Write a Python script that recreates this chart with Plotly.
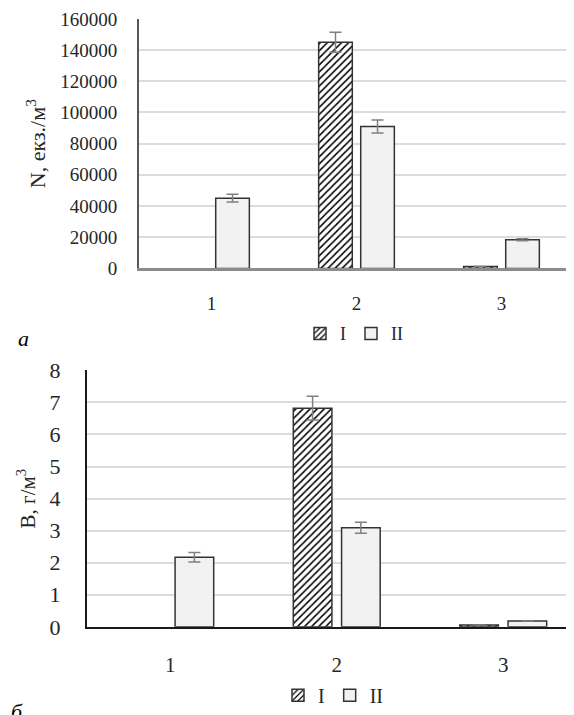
import plotly.graph_objects as go

# ---------------- data ----------------
categories = ["1", "2", "3"]
series_names = ["I", "II"]

# None = no bar drawn for that category
n_I = [None, 145000, 1200]
n_II = [45000, 91000, 18400]
n_I_err = [None, 6400, None]
n_II_err = [2500, 4200, 600]

b_I = [None, 6.82, 0.06]
b_II = [2.17, 3.09, 0.18]
b_I_err = [None, 0.37, None]
b_II_err = [0.15, 0.17, None]

n_ticks = [0, 20000, 40000, 60000, 80000, 100000, 120000, 140000, 160000]
b_ticks = [0, 1, 2, 3, 4, 5, 6, 7, 8]

n_title = "N, екз./м<sup>3</sup>"
b_title = "В, г/м<sup>3</sup>"
panel_labels = ["а", "б"]

# ---------------- figure ----------------
# the page body has an 8px margin, so the figure is sized to fill the
# remaining 566x707 window area and positions are given in window pixels
OFF = 8
W, H = 574 - OFF, 715 - OFF
FONT = "Liberation Serif"
TXT = "#262626"
HATCH = dict(shape="/", size=5, solidity=0.3, fgcolor="#000000", bgcolor="#ffffff", fillmode="replace")
ERR = dict(type="data", color="#808080", thickness=1.5, width=6, visible=True)

fig = go.Figure()

def add_pair(yI, yII, eI, eII, xa, ya, leg):
    fig.add_trace(go.Bar(
        x=categories, y=yI, name=series_names[0], xaxis=xa, yaxis=ya, legend=leg,
        marker=dict(color="#ffffff", pattern=HATCH, line=dict(color="#333333", width=1.5)),
        error_y=dict(array=eI, **ERR),
    ))
    fig.add_trace(go.Bar(
        x=categories, y=yII, name=series_names[1], xaxis=xa, yaxis=ya, legend=leg,
        marker=dict(color="#f2f2f2", line=dict(color="#333333", width=1.5)),
        error_y=dict(array=eII, **ERR),
    ))

add_pair(n_I, n_II, n_I_err, n_II_err, "x", "y", "legend")
add_pair(b_I, b_II, b_I_err, b_II_err, "x2", "y2", "legend2")

def px_x(p):
    return (p - OFF) / W

def px_y(p):
    return 1 - (p - OFF) / H

fig.update_layout(
    width=W, height=H,
    margin=dict(l=0, r=0, t=0, b=0),
    paper_bgcolor="white", plot_bgcolor="white",
    font=dict(family=FONT, color=TXT),
    barmode="group", bargap=0.42, bargroupgap=0.2,
    showlegend=True,
    xaxis=dict(
        domain=[px_x(139), 1], range=[-0.5, 2.5], type="category",
        anchor="y", showgrid=False, showline=True, linecolor="#8c8c8c", linewidth=3,
        ticks="outside", ticklen=16, tickcolor="rgba(0,0,0,0)",
        tickfont=dict(size=19, family=FONT, color=TXT), automargin=False,
    ),
    yaxis=dict(
        domain=[px_y(271), px_y(19)], range=[0, 160000], tickvals=n_ticks,
        tickformat="d", anchor="x",
        showgrid=True, gridcolor="#dcdcdc", gridwidth=1.5, zeroline=False,
        showline=True, linecolor="#595959", linewidth=2,
        ticks="outside", ticklen=16, tickcolor="rgba(0,0,0,0)",
        tickfont=dict(size=19, family=FONT, color=TXT), automargin=False,
        title=dict(text=n_title, font=dict(size=22, family=FONT, color=TXT), standoff=8),
    ),
    xaxis2=dict(
        domain=[px_x(87), 1], range=[-0.5, 2.425], type="category",
        anchor="y2", showgrid=False, showline=True, linecolor="#1a1a1a", linewidth=2,
        ticks="outside", ticklen=18, tickcolor="rgba(0,0,0,0)",
        tickfont=dict(size=21, family=FONT, color=TXT), automargin=False,
    ),
    yaxis2=dict(
        domain=[px_y(633), px_y(374)], range=[0, 8], tickvals=b_ticks, anchor="x2",
        showgrid=True, gridcolor="#dcdcdc", gridwidth=1.5, zeroline=False,
        showline=True, linecolor="#1a1a1a", linewidth=2,
        ticks="outside", ticklen=20, tickcolor="rgba(0,0,0,0)",
        tickfont=dict(size=22, family=FONT, color=TXT), automargin=False,
        title=dict(text=b_title, font=dict(size=21, family=FONT, color=TXT), standoff=8),
    ),
    legend=dict(
        orientation="h", x=px_x(354), y=px_y(337), xanchor="center", yanchor="middle",
        font=dict(size=18, family=FONT, color=TXT), itemwidth=30, bgcolor="rgba(0,0,0,0)",
    ),
    legend2=dict(
        orientation="h", x=px_x(333), y=px_y(702), xanchor="center", yanchor="middle",
        font=dict(size=20, family=FONT, color=TXT), itemwidth=30, bgcolor="rgba(0,0,0,0)",
    ),
    annotations=[
        dict(text="<i>" + panel_labels[0] + "</i>", x=px_x(23), y=px_y(342), xref="paper", yref="paper",
             showarrow=False, font=dict(size=22, family=FONT, color="#000000"), xanchor="center", yanchor="middle"),
        dict(text="<i>" + panel_labels[1] + "</i>", x=px_x(17), y=px_y(704), xref="paper", yref="paper",
             showarrow=False, font=dict(size=22, family=FONT, color="#000000"), xanchor="center", yanchor="top"),
    ],
)

fig.write_html("out.html")
